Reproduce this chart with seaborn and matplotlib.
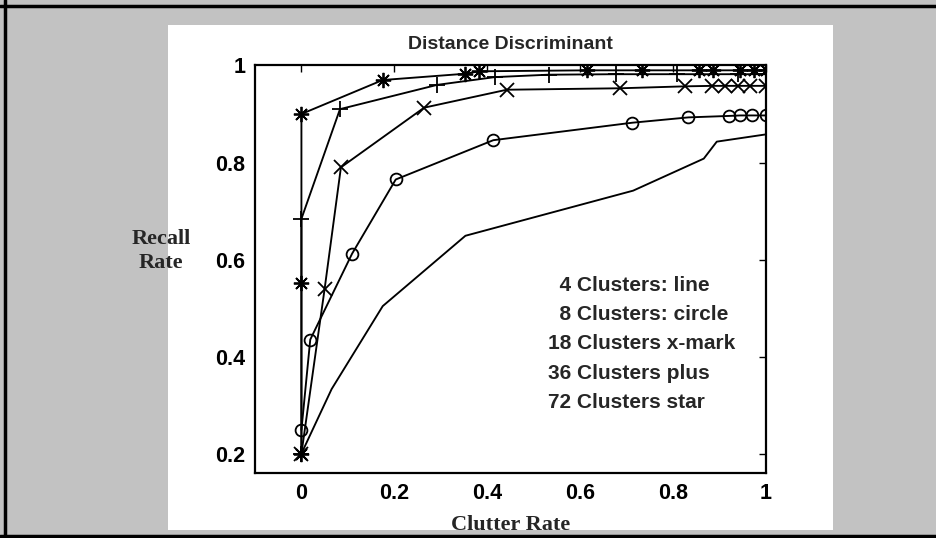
import matplotlib
matplotlib.use('Agg')
import matplotlib.pyplot as plt
import pandas as pd
import seaborn as sns
from matplotlib.patches import Rectangle
from matplotlib.lines import Line2D

# Values
x_4 = [0, 0.065, 0.175, 0.353, 0.714, 0.866, 0.894, 1.0]
y_4 = [0.2, 0.333, 0.504, 0.649, 0.742, 0.808, 0.843, 0.858]

x_8 = [0, 0.019, 0.109, 0.203, 0.413, 0.712, 0.833, 0.92, 0.945, 0.97, 1.0]
y_8 = [0.249, 0.435, 0.612, 0.765, 0.846, 0.882, 0.893, 0.896, 0.897, 0.897, 0.897]

x_18 = [0, 0.05, 0.085, 0.264, 0.442, 0.686, 0.826, 0.884, 0.912, 0.94, 0.966, 1.0]
y_18 = [0.2, 0.54, 0.79, 0.913, 0.95, 0.953, 0.957, 0.958, 0.958, 0.958, 0.958, 0.958]

x_36 = [0, 0, 0.083, 0.292, 0.416, 0.532, 0.677, 0.808, 0.94, 1.0]
y_36 = [0.2, 0.684, 0.91, 0.96, 0.976, 0.981, 0.982, 0.982, 0.982, 0.982]

x_72 = [0, 0, 0, 0.175, 0.353, 0.383, 0.615, 0.733, 0.855, 0.886, 0.944, 0.974, 1.0]
y_72 = [0.2, 0.552, 0.9, 0.97, 0.983, 0.988, 0.99, 0.99, 0.99, 0.99, 0.99, 0.99, 0.99]

legend_lines = ['  4 Clusters: line', '  8 Clusters: circle', '18 Clusters x-mark',
                '36 Clusters plus', '72 Clusters star']

series = [
    (x_4, y_4, None, 0),
    (x_8, y_8, 'o', 8.5),
    (x_18, y_18, 'x', 10),
    (x_36, y_36, '+', 11),
    (x_72, y_72, (8, 2, 0), 11),
]

sns.set_style('white')
plt.rcParams['font.family'] = ['Liberation Sans', 'DejaVu Sans']

fig = plt.figure(figsize=(9.36, 5.38), dpi=100)
fig.patch.set_facecolor('#c2c2c2')

# white page panel of the scan + black frame lines
fig.patches.append(Rectangle((0.1795, 0.0149), 0.7105, 0.9386, transform=fig.transFigure,
                             facecolor='white', edgecolor='none', zorder=-10))
for xs, ys in [([0, 1], [0.988, 0.988]), ([0.005, 0.005], [0, 1]), ([0, 1], [0.004, 0.004])]:
    fig.lines.append(Line2D(xs, ys, transform=fig.transFigure, color='black', lw=2.5, zorder=-5))

ax = fig.add_axes([0.2724, 0.1208, 0.546, 0.7575])
ax.set_zorder(5)

for xs, ys, mk, ms in series:
    d = pd.DataFrame({'x': xs, 'y': ys})
    sns.lineplot(data=d, x='x', y='y', sort=False, estimator=None, ax=ax,
                 color='black', lw=1.35, marker=mk, markersize=ms,
                 markerfacecolor='none', markeredgecolor='black', markeredgewidth=1.3)

ax.set_xlim(-0.1, 1.0)
ax.set_ylim(0.16, 1.0)
ax.set_xticks([0, 0.2, 0.4, 0.6, 0.8, 1.0])
ax.set_xticklabels(['0', '0.2', '0.4', '0.6', '0.8', '1'])
ax.set_yticks([0.2, 0.4, 0.6, 0.8, 1.0])
ax.set_yticklabels(['0.2', '0.4', '0.6', '0.8', '1'])
ax.tick_params(direction='in', length=5, width=1, top=True, right=True,
               labelsize=15.5, pad=7, colors='black')
for lab in ax.get_xticklabels() + ax.get_yticklabels():
    lab.set_fontweight('bold')
for sp in ax.spines.values():
    sp.set_visible(True)
    sp.set_color('black')
    sp.set_linewidth(1.6)

ax.set_title('Distance Discriminant', fontsize=14, fontweight='bold', pad=12)
ax.set_xlabel('Clutter Rate', family='Liberation Serif', fontsize=16,
              fontweight='bold', labelpad=8)
ax.set_ylabel('Recall\nRate', family='Liberation Serif', fontsize=16,
              fontweight='bold', rotation=0, ha='center', va='center',
              multialignment='center', linespacing=1.25)
ax.yaxis.set_label_coords(-0.184, 0.545)

for i, txt in enumerate(legend_lines):
    ax.text(0.53, 0.546 - i * 0.06, txt, fontsize=15, fontweight='bold',
            ha='left', va='center')

fig.savefig('out.png', dpi=100, facecolor=fig.get_facecolor())
